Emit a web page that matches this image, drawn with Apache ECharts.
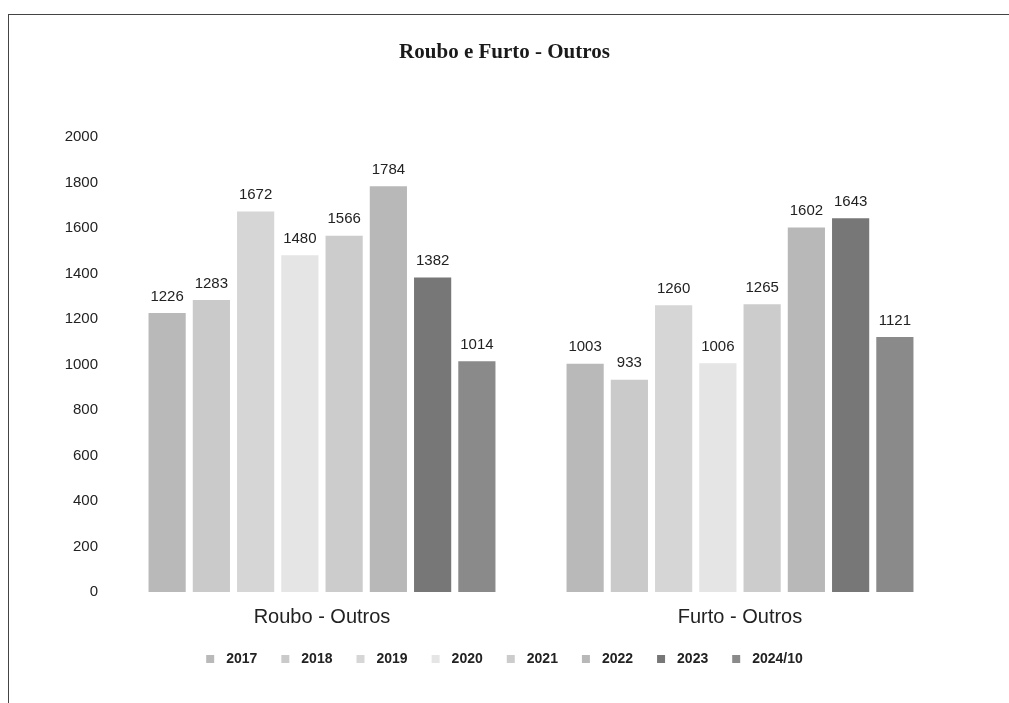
<!DOCTYPE html>
<html>
<head>
<meta charset="utf-8">
<script src="https://cdn.jsdelivr.net/npm/echarts@6/dist/echarts.min.js"></script>
<style>
  html, body { margin: 0; padding: 0; background: #fff; overflow: hidden; }
  #frame { position: absolute; left: 8px; top: 14px; width: 1020px; height: 720px; border: 1px solid #444; }
  #chart { position: absolute; left: 0; top: 0; width: 1009px; height: 703px; }
</style>
</head>
<body>
<div id="frame"></div>
<div id="chart"></div>
<script>
// categorias e séries
const categories = ['Roubo - Outros', 'Furto - Outros'];
const years = ['2017', '2018', '2019', '2020', '2021', '2022', '2023', '2024/10'];
const values2017 = [1226, 1003];
const values2018 = [1283, 933];
const values2019 = [1672, 1260];
const values2020 = [1480, 1006];
const values2021 = [1566, 1265];
const values2022 = [1784, 1602];
const values2023 = [1382, 1643];
const values2024 = [1014, 1121];
const yTicks = [0, 200, 400, 600, 800, 1000, 1200, 1400, 1600, 1800, 2000];

const seriesValues = [values2017, values2018, values2019, values2020, values2021, values2022, values2023, values2024];
const colors = ['#b9b9b9', '#cacaca', '#d6d6d6', '#e5e5e5', '#cccccc', '#b8b8b8', '#777777', '#8a8a8a'];

const chart = echarts.init(document.getElementById('chart'));
chart.setOption({
  animation: false,
  color: colors,
  title: {
    text: 'Roubo e Furto - Outros',
    left: 'center',
    top: 37,
    textStyle: { fontFamily: 'Liberation Serif', fontSize: 21, fontWeight: 'bold', color: '#1a1a1a' }
  },
  legend: {
    data: years,
    bottom: 32,
    left: 'center',
    icon: 'rect',
    itemWidth: 8,
    itemHeight: 8,
    itemGap: 24,
    textStyle: { fontFamily: 'Liberation Sans', fontSize: 14, fontWeight: 'bold', color: '#222', padding: [0, 0, 0, 7] }
  },
  grid: { left: 113, right: 60, top: 137, bottom: 111, containLabel: false },
  xAxis: {
    type: 'category',
    data: categories,
    axisLine: { show: false },
    axisTick: { show: false },
    axisLabel: { fontFamily: 'Liberation Sans', fontSize: 20, color: '#222', margin: 15 }
  },
  yAxis: {
    type: 'value',
    min: yTicks[0],
    max: yTicks[yTicks.length - 1],
    interval: 200,
    splitLine: { show: false },
    axisLine: { show: false },
    axisTick: { show: false },
    axisLabel: { fontFamily: 'Liberation Sans', fontSize: 15, color: '#222', margin: 15, formatter: v => String(v) }
  },
  series: years.map((y, i) => ({
    name: y,
    type: 'bar',
    data: seriesValues[i],
    barGap: '19%',
    barCategoryGap: '17%',
    label: {
      show: true,
      position: 'top',
      distance: 9,
      fontFamily: 'Liberation Sans',
      fontSize: 15,
      color: '#222'
    }
  }))
});
</script>
</body>
</html>
